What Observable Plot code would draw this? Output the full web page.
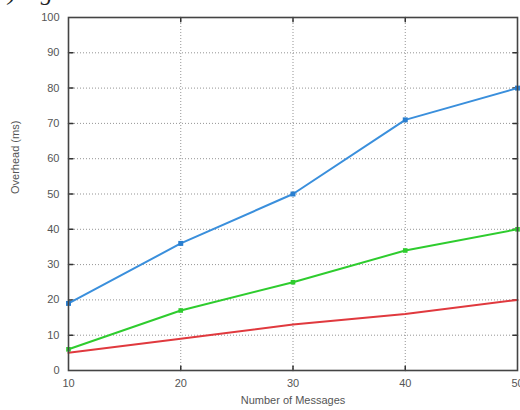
<!DOCTYPE html>
<html>
<head>
<meta charset="utf-8">
<script src="https://cdn.jsdelivr.net/npm/d3@7"></script>
<script src="https://cdn.jsdelivr.net/npm/@observablehq/plot@0.6"></script>
<style>
  body { margin: 0; background: #fff; overflow: hidden; }
  #wrap { position: relative; width: 520px; height: 410px; }
  #cap { position: absolute; left: -12px; top: -21px; font: italic 24px "Liberation Serif", serif; color: #222; white-space: nowrap; }
</style>
</head>
<body>
<div id="wrap"><div id="cap">(a) log records</div></div>
<script>
const messages = [10, 20, 30, 40, 50];
const blueSeries = [19, 36, 50, 71, 80];
const greenSeries = [6, 17, 25, 34, 40];
const redSeries = [5, 9, 13, 16, 20];
const xTicks = [10, 20, 30, 40, 50];
const yTicks = [0, 10, 20, 30, 40, 50, 60, 70, 80, 90, 100];

const mk = (vals, s) => messages.map((m, i) => ({x: m, y: vals[i], s}));
const blue = mk(blueSeries, "blue"), green = mk(greenSeries, "green"), red = mk(redSeries, "red");

const innerX = xTicks.slice(1, -1);
const innerY = yTicks.slice(1, -1);

const chart = Plot.plot({
  width: 520, height: 410,
  marginLeft: 68, marginRight: 3, marginTop: 17, marginBottom: 40,
  style: {fontFamily: "Liberation Sans, Arial, sans-serif", fontSize: "11px", color: "#555", background: "#fff"},
  x: {type: "linear", domain: [10, 50], ticks: xTicks},
  y: {type: "linear", domain: [0, 100], ticks: yTicks},
  marks: [
    Plot.gridX(innerX, {stroke: "#888", strokeOpacity: 0.9, strokeDasharray: "1,2"}),
    Plot.gridY(innerY, {stroke: "#888", strokeOpacity: 0.9, strokeDasharray: "1,2"}),
    Plot.axisX({ticks: xTicks, tickSize: 0, tickPadding: 9, label: null, fill: "#555"}),
    Plot.axisY({ticks: yTicks, tickSize: 0, tickPadding: 9, label: null, fill: "#555"}),
    // inward ticks on all four sides
    Plot.line(innerX.flatMap(v => [{x: v, y: 0, k: v}, {x: v, y: 1.2, k: v}]), {x: "x", y: "y", z: "k", stroke: "#333", strokeWidth: 1.5}),
    Plot.line(innerX.flatMap(v => [{x: v, y: 100, k: v}, {x: v, y: 98.8, k: v}]), {x: "x", y: "y", z: "k", stroke: "#333", strokeWidth: 1.5}),
    Plot.line(innerY.flatMap(v => [{x: 10, y: v, k: v}, {x: 10.4, y: v, k: v}]), {x: "x", y: "y", z: "k", stroke: "#333", strokeWidth: 1.5}),
    Plot.line(innerY.flatMap(v => [{x: 50, y: v, k: v}, {x: 49.6, y: v, k: v}]), {x: "x", y: "y", z: "k", stroke: "#333", strokeWidth: 1.5}),
    Plot.line(red, {x: "x", y: "y", stroke: "#e0393e", strokeWidth: 2}),
    Plot.line(green, {x: "x", y: "y", stroke: "#2ecc2e", strokeWidth: 2}),
    Plot.dot(green, {x: "x", y: "y", symbol: "square", r: 2.6, fill: "#2ecc2e"}),
    Plot.line(blue, {x: "x", y: "y", stroke: "#3a8fdc", strokeWidth: 2}),
    Plot.dot(blue, {x: "x", y: "y", symbol: "square", r: 2.8, fill: "#2a7fd0"}),
    Plot.frame({stroke: "#444", strokeWidth: 1.6}),
    Plot.text(["Overhead (ms)"], {frameAnchor: "left", dx: -53, rotate: -90, fill: "#555", fontSize: 11}),
    Plot.text(["Number of Messages"], {frameAnchor: "bottom", dy: 33, fill: "#555", fontSize: 11})
  ]
});
document.getElementById("wrap").prepend(chart);
</script>
</body>
</html>
